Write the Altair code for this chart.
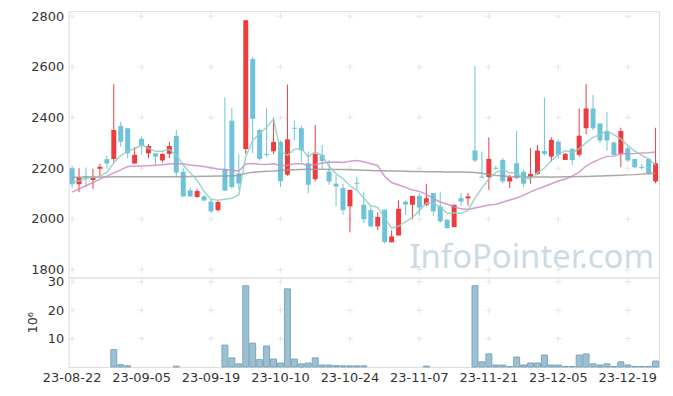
import altair as alt
import pandas as pd

holidays = ["2023-09-28", "2023-09-29", "2023-10-02", "2023-10-03", "2023-10-09", "2023-12-25"]
days = [d for d in pd.bdate_range("2023-08-22", "2023-12-26") if d.strftime("%Y-%m-%d") not in holidays]
dates = [d.strftime("%y-%m-%d") for d in days]

open_ = [2200, 2137, 2170, 2154, 2198, 2236, 2237, 2367, 2358, 2219,
         2316, 2259, 2259, 2231, 2257, 2328, 2186, 2113, 2087, 2089,
         2069, 2035, 2198, 2388, 2180, 2276, 2631, 2351, 2256, 2267,
         2304, 2175, 2360, 2358, 2220, 2157, 2253, 2187, 2139, 2122,
         2050, 2143, 2056, 2035, 1971, 2037, 1908, 1935, 2068, 2056,
         2091, 2056, 2102, 2050, 1997, 1968, 2082, 2081, 2270, 2167,
         2165, 2202, 2233, 2148, 2220, 2186, 2167, 2178, 2268, 2246,
         2305, 2233, 2276, 2253, 2358, 2436, 2377, 2345, 2302, 2256,
         2279, 2237, 2206, 2237, 2148]
high = [2207, 2200, 2203, 2198, 2217, 2249, 2532, 2384, 2358, 2284,
        2325, 2296, 2259, 2259, 2305, 2351, 2200, 2123, 2119, 2095,
        2080, 2071, 2480, 2438, 2255, 2784, 2640, 2355, 2438, 2400,
        2310, 2530, 2388, 2368, 2266, 2371, 2292, 2233, 2174, 2139,
        2115, 2167, 2108, 2050, 2027, 2037, 1955, 2073, 2073, 2091,
        2102, 2139, 2102, 2108, 2000, 2056, 2102, 2102, 2603, 2266,
        2322, 2210, 2240, 2174, 2348, 2195, 2280, 2292, 2480, 2322,
        2314, 2260, 2280, 2436, 2532, 2489, 2377, 2421, 2305, 2360,
        2290, 2237, 2217, 2237, 2360]
low = [2122, 2106, 2126, 2119, 2165, 2198, 2226, 2285, 2240, 2219,
       2253, 2240, 2213, 2223, 2240, 2167, 2089, 2087, 2083, 2070,
       2023, 2029, 2112, 2120, 2115, 2257, 2260, 2230, 2244, 2257,
       2126, 2170, 2310, 2224, 2102, 2148, 2200, 2135, 2050, 2017,
       1947, 2115, 1984, 1966, 1956, 1903, 1908, 1935, 2017, 1999,
       2013, 2050, 2013, 1984, 1962, 1968, 2052, 2052, 2225, 2161,
       2115, 2195, 2140, 2122, 2157, 2127, 2139, 2175, 2250, 2226,
       2237, 2233, 2213, 2246, 2335, 2350, 2300, 2270, 2250, 2204,
       2225, 2200, 2195, 2175, 2141]
close = [2137, 2163, 2165, 2167, 2206, 2219, 2351, 2305, 2259, 2253,
         2290, 2288, 2246, 2257, 2288, 2183, 2089, 2089, 2110, 2073,
         2030, 2067, 2112, 2126, 2140, 2784, 2395, 2237, 2252, 2304,
         2149, 2314, 2356, 2270, 2135, 2257, 2229, 2148, 2128, 2035,
         2115, 2139, 1999, 1971, 2008, 1909, 1931, 2040, 2057, 2091,
         2045, 2082, 2030, 1991, 1964, 2056, 2069, 2089, 2231, 2163,
         2237, 2198, 2148, 2165, 2161, 2139, 2178, 2270, 2257, 2312,
         2253, 2257, 2233, 2328, 2436, 2358, 2310, 2310, 2253, 2347,
         2231, 2204, 2202, 2178, 2220]
volume = [0, 0, 0, 0, 0, 0, 6.1, 0.8, 0.4, 0,
          0, 0, 0, 0, 0, 0.3, 0, 0, 0, 0,
          0, 0, 7.7, 3.2, 1.1, 28.6, 8.4, 2.6, 7.4, 2.8,
          1.4, 27.5, 2.8, 1.1, 1.4, 3.2, 0.7, 0.7, 0.5, 0.4,
          0.4, 0.4, 0.4, 0, 0, 0, 0, 0, 0, 0,
          0, 0.3, 0, 0, 0, 0, 0, 0, 28.6, 1.8,
          4.6, 0.7, 0.7, 0.2, 3.5, 0.7, 1.4, 1.4, 4.2, 0.7,
          0.7, 0.2, 0.2, 4.2, 4.6, 1.1, 0.7, 1.1, 0.2, 1.8,
          0.7, 0.2, 0.2, 0.2, 2.1]
ma5 = [2141, 2151, 2160, 2165, 2168, 2184, 2222, 2250, 2268, 2277,
       2292, 2279, 2267, 2267, 2274, 2252, 2213, 2181, 2152, 2109,
       2078, 2074, 2078, 2082, 2095, 2246, 2311, 2336, 2362, 2394,
       2267, 2251, 2275, 2279, 2245, 2266, 2249, 2208, 2179, 2159,
       2131, 2113, 2083, 2052, 2046, 2005, 1964, 1972, 1989, 2006,
       2033, 2063, 2061, 2048, 2022, 2025, 2022, 2034, 2082, 2122,
       2158, 2184, 2195, 2182, 2182, 2162, 2158, 2183, 2201, 2231,
       2254, 2270, 2262, 2277, 2301, 2322, 2333, 2348, 2333, 2316,
       2290, 2269, 2251, 2238, 2212]
ma20 = [2106, 2119, 2131, 2144, 2157, 2169, 2182, 2194, 2207, 2208,
        2209, 2210, 2212, 2214, 2217, 2219, 2217, 2213, 2210, 2207,
        2202, 2197, 2194, 2192, 2189, 2217, 2219, 2216, 2215, 2218,
        2211, 2212, 2218, 2218, 2211, 2214, 2221, 2224, 2225, 2223,
        2228, 2231, 2226, 2218, 2211, 2168, 2144, 2134, 2125, 2114,
        2109, 2097, 2081, 2067, 2058, 2048, 2040, 2037, 2043, 2049,
        2055, 2058, 2066, 2075, 2083, 2094, 2107, 2118, 2128, 2139,
        2150, 2158, 2169, 2185, 2209, 2224, 2236, 2247, 2248, 2258,
        2257, 2258, 2260, 2261, 2264]
ma60 = [2165, 2165, 2166, 2166, 2166, 2166, 2167, 2167, 2167, 2167,
        2167, 2167, 2167, 2167, 2167, 2167, 2167, 2168, 2168, 2169,
        2169, 2170, 2170, 2171, 2172, 2180, 2184, 2186, 2188, 2189,
        2191, 2193, 2194, 2195, 2196, 2196, 2196, 2195, 2195, 2195,
        2194, 2193, 2192, 2191, 2190, 2190, 2189, 2189, 2188, 2187,
        2187, 2186, 2186, 2186, 2185, 2185, 2185, 2184, 2183, 2180,
        2175, 2172, 2170, 2168, 2167, 2166, 2166, 2166, 2166, 2166,
        2166, 2167, 2167, 2168, 2168, 2169, 2170, 2171, 2172, 2173,
        2174, 2175, 2177, 2178, 2180]

price_ticks = [1800, 2000, 2200, 2400, 2600, 2800]
vol_ticks = [10, 20, 30]
tick_dates = dates[::10]

UP = "#ee3b3d"
DOWN = "#6cc3da"
FONT = "DejaVu Sans"

df = pd.DataFrame({
    "date": dates, "open": open_, "high": high, "low": low, "close": close,
    "volume": volume, "ma5": ma5, "ma20": ma20, "ma60": ma60,
})
df["dir"] = ["up" if c >= o else "down" for o, c in zip(open_, close)]

cross_price = pd.DataFrame([(d, v) for d in tick_dates for v in price_ticks], columns=["date", "v"])
cross_vol = pd.DataFrame([(d, v) for d in tick_dates for v in vol_ticks], columns=["date", "v"])

xscale = alt.Scale(type="band", domain=dates, paddingInner=0, paddingOuter=0)
x_hidden = alt.X("date:O", sort=None, scale=xscale, axis=None)
x_axis = alt.X("date:O", sort=None, scale=xscale,
               axis=alt.Axis(values=tick_dates, labelAngle=0, ticks=False, domain=False,
                             grid=False, title=None, labelFontSize=13, labelFont=FONT,
                             labelColor="#333", labelPadding=5))

pscale = alt.Scale(domain=[1769, 2820], nice=False, zero=False)
py_axis = alt.Axis(values=price_ticks, format="d", ticks=False, domain=False, grid=False,
                   title=None, labelFontSize=13, labelFont=FONT, labelColor="#333", labelPadding=5)
color = alt.Color("dir:N", scale=alt.Scale(domain=["up", "down"], range=[UP, DOWN]), legend=None)

PLUS = "M-1,0L1,0M0,-1L0,1"

base = alt.Chart(df)
crosses_p = alt.Chart(cross_price).mark_point(shape=PLUS, size=40, filled=False, stroke="#dcdcdc", strokeWidth=1).encode(
    x=x_hidden, y=alt.Y("v:Q", scale=pscale, axis=py_axis))
wick = base.mark_rule(strokeWidth=1).encode(
    x=x_hidden, y=alt.Y("low:Q", scale=pscale, axis=py_axis), y2="high:Q", color=color)
body = base.mark_bar(size=5).encode(
    x=x_hidden, y=alt.Y("open:Q", scale=pscale), y2="close:Q", color=color)
l60 = base.mark_line(color="#9a9a9a", strokeWidth=1.5, opacity=0.85).encode(x=x_hidden, y=alt.Y("ma60:Q", scale=pscale))
l20 = base.mark_line(color="#cc8cc4", strokeWidth=1.5, opacity=0.85).encode(x=x_hidden, y=alt.Y("ma20:Q", scale=pscale))
l5 = base.mark_line(color="#8ecfc2", strokeWidth=1.5, opacity=0.85).encode(x=x_hidden, y=alt.Y("ma5:Q", scale=pscale))
wm = alt.Chart(pd.DataFrame({"t": ["InfoPointer.com"]})).mark_text(
    align="right", baseline="alphabetic", fontSize=33, font="Noto Sans", color="#cbdae5").encode(
    text="t:N", x=alt.value(589), y=alt.value(258))

price = alt.layer(crosses_p, wm, wick, body, l60, l20, l5).properties(width=594, height=268)

vscale = alt.Scale(domain=[0, 31.5], nice=False, zero=True)
vy_axis = alt.Axis(values=vol_ticks, ticks=False, domain=False, grid=False, title="10⁶",
                   titleFontSize=13, titleFont=FONT, titleFontWeight="normal", titleColor="#333",
                   labelFontSize=13, labelFont=FONT, labelColor="#333", labelPadding=5, titlePadding=8)
crosses_v = alt.Chart(cross_vol).mark_point(shape=PLUS, size=40, filled=False, stroke="#dcdcdc", strokeWidth=1).encode(
    x=x_axis, y=alt.Y("v:Q", scale=vscale, axis=vy_axis))
vbars = base.transform_filter("datum.volume > 0").mark_bar(
    size=6, fill="#9cc0d1", stroke="#7ba6bc", strokeWidth=1).encode(
    x=x_axis, y=alt.Y("volume:Q", scale=vscale, axis=vy_axis))
vol = alt.layer(crosses_v, vbars).properties(width=594, height=90)

chart = alt.vconcat(price, vol, spacing=0, bounds="flush").properties(
    padding={"left": 17, "top": 0, "right": 5, "bottom": 5}
).configure_view(stroke="#e6e6e6").configure(background="white")

chart.save("out.html", embed_options={"renderer": "svg", "actions": False})
